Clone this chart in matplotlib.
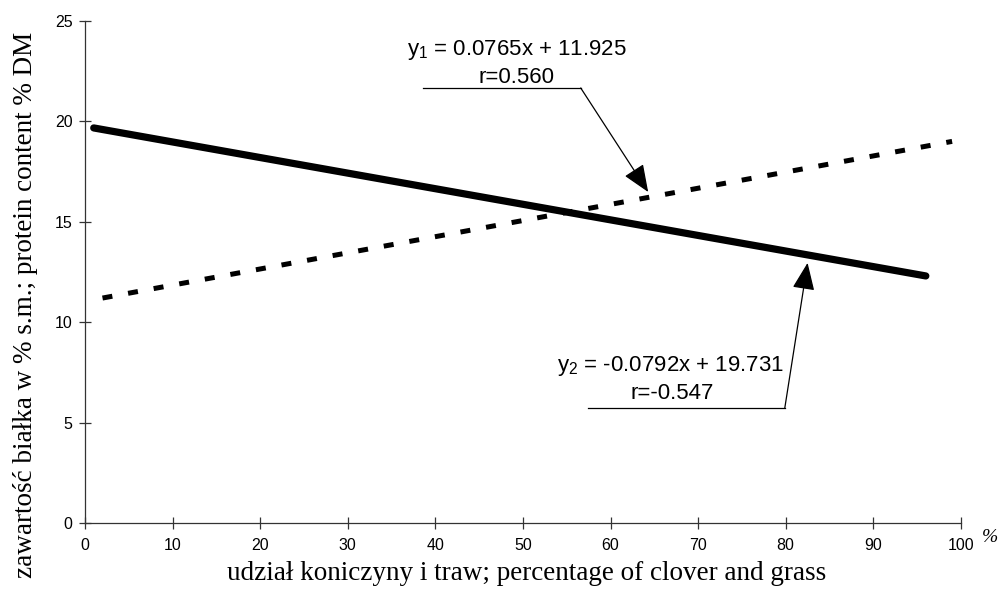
import matplotlib.pyplot as plt

# Data
xClover = [1, 96]
yProteinSolid = [19.67, 12.3]      # y2 = -0.0792x + 19.731
xDashed = [2, 99]
yProteinDashed = [11.2, 19.0]      # y1 = 0.0765x + 11.925

xTicks = [0, 10, 20, 30, 40, 50, 60, 70, 80, 90, 100]
yTicks = [0, 5, 10, 15, 20, 25]

eq1 = ['y$_1$ = 0.0765x + 11.925', 'r=0.560']
eq2 = ['y$_2$ = -0.0792x + 19.731', 'r=-0.547']


def main(saveLocation):
    plt.rcParams['mathtext.fontset'] = 'custom'
    plt.rcParams['mathtext.rm'] = 'Liberation Sans'
    plt.rcParams['mathtext.it'] = 'Liberation Sans'

    fig = plt.figure(figsize=(10.01, 5.97), dpi=100)
    ax = fig.add_axes([0.0849, 0.124, 0.875, 0.841])

    ax.set_xlim(0, 100)
    ax.set_ylim(0, 25)
    ax.spines['top'].set_visible(False)
    ax.spines['right'].set_visible(False)
    for side in ['left', 'bottom']:
        ax.spines[side].set_linewidth(0.9)
        ax.spines[side].set_color('#333333')

    sansFont = ['Liberation Sans', 'DejaVu Sans']
    serifFont = ['Liberation Serif', 'DejaVu Serif']

    ax.set_xticks(xTicks)
    ax.set_yticks(yTicks)
    ax.tick_params(direction='inout', length=8, width=0.9, color='#333333',
                   labelsize=11.5, labelfontfamily='Liberation Sans')
    ax.tick_params(axis='x', pad=7)
    ax.tick_params(axis='y', pad=5)

    # Regression lines
    ax.plot(xClover, yProteinSolid, color='black', linewidth=5.2, solid_capstyle='round', zorder=3)
    ax.plot(xDashed, yProteinDashed, color='black', linewidth=3.6, dash_capstyle='butt',
            linestyle=(0, (2.0, 3.2)), zorder=3)

    # Equation labels
    ax.text(49.3, 23.55, eq1[0], ha='center', va='center', fontsize=16, family=sansFont)
    ax.text(49.3, 22.2, eq1[1], ha='center', va='center', fontsize=16, family=sansFont)
    ax.text(66.8, 7.8, eq2[0], ha='center', va='center', fontsize=16, family=sansFont)
    ax.text(67.0, 6.45, eq2[1], ha='center', va='center', fontsize=16, family=sansFont)

    # Leader lines with arrows
    arrowProps = dict(arrowstyle='-|>,head_length=1.7,head_width=0.7', color='black', lw=0.9,
                      shrinkA=0, shrinkB=0)
    ax.plot([38.6, 56.6], [21.66, 21.66], color='black', lw=0.9)
    ax.annotate('', xy=(64.3, 16.48), xytext=(56.6, 21.66), arrowprops=arrowProps)
    ax.plot([57.4, 79.9], [5.73, 5.73], color='black', lw=0.9)
    ax.annotate('', xy=(82.5, 12.95), xytext=(79.9, 5.73), arrowprops=arrowProps)

    # Axis labels
    fig.text(0.526, 0.040, 'udział koniczyny i traw; percentage of clover and grass',
             ha='center', va='center', fontsize=19.5, family=serifFont)
    fig.text(0.025, 0.489, 'zawartość białka w % s.m.; protein content % DM',
             ha='center', va='center', rotation=90, fontsize=19.5, family=serifFont)
    fig.text(0.989, 0.100, '%', ha='center', va='center', fontsize=14, family=serifFont, style='italic')

    fig.savefig(saveLocation, dpi=100)


if __name__ == '__main__':
    main('out.png')
